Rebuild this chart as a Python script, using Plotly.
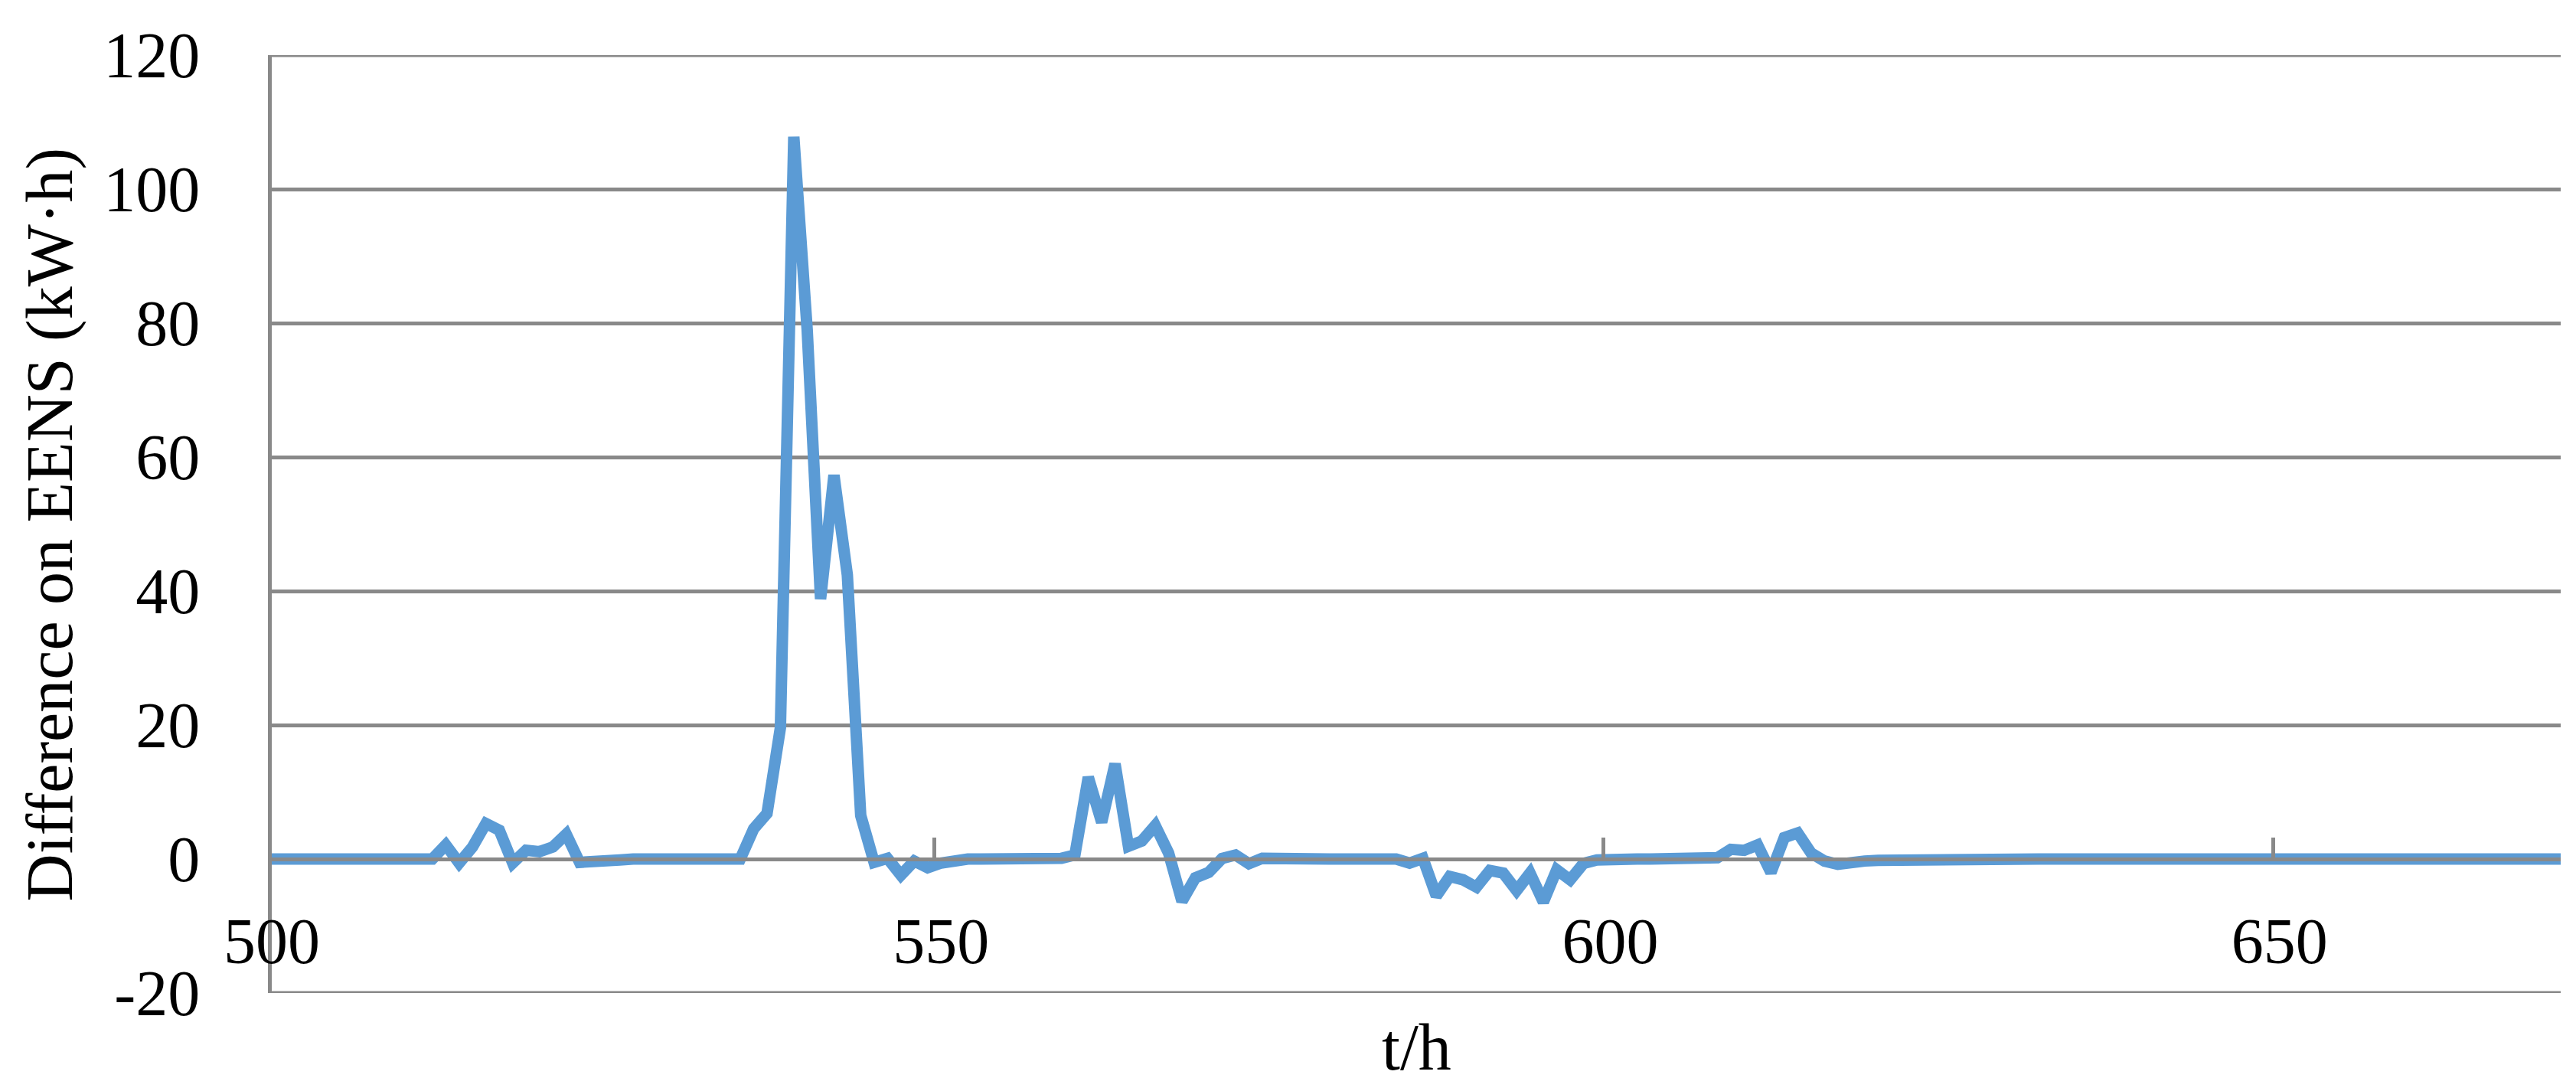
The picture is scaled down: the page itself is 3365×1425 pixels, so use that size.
import plotly.graph_objects as go

hours = list(range(500, 672))

eens_diff = [
    0, 0, 0, 0, 0, 0, 0, 0, 0, 0,             # 500-509
    0, 0, 0, 2.1, -0.6, 1.8, 5.3, 4.3, -0.6, 1.3,   # 510-519
    1.1, 1.8, 3.7, -0.5, -0.5, -0.3, -0.15, 0, 0, 0,  # 520-529
    0, 0, 0, 0, 0, 0, 4.5, 6.8, 19.6, 107.8,   # 530-539
    79, 38.8, 57.3, 42.4, 6.5, -0.5, 0.1, -2.4, -0.3, -1.3,  # 540-549
    -0.6, -0.1, 0, 0, 0, 0, 0, 0, 0, 0.1,      # 550-559
    0.6, 12.2, 5.5, 14.2, 1.9, 2.7, 5.0, 0.9, -6.3, -2.8,  # 560-569
    -2.0, 0.1, 0.6, -0.7, 0.1, 0, 0, 0, 0, 0,  # 570-579
    0, 0, 0, 0, 0, -0.6, 0.1, -5.5, -2.6, -3.1,  # 580-589
    -4.2, -1.7, -2.1, -4.7, -2.1, -6.4, -1.6, -3.1, -0.65, -0.15,  # 590-599
    0, 0, 0, 0, 0, 0, 0, 0, 0.2, 1.45,         # 600-609
    1.3, 2.1, -2.0, 3.2, 3.9, 0.9, -0.3, -0.8, -0.45, -0.3,  # 610-619
    -0.2, -0.15, -0.15, -0.15, 0, 0, 0, 0, 0.1, 0.1,  # 620-629
    0.1, 0.1, 0, 0, 0, 0, 0, 0, 0, 0,          # 630-639
    0, 0, 0, 0, 0, 0, 0, 0, 0, 0,              # 640-649
    0, 0, 0, 0, 0, 0, 0, 0, 0, 0,              # 650-659
    0, 0, 0, 0, 0, 0, 0, 0, 0, 0,              # 660-669
    0, 0,                                      # 670-671
]

y_ticks = [-20, 0, 20, 40, 60, 80, 100, 120]
y_tick_text = ['-20', '0', '20', '40', '60', '80', '100', '120']

grey = '#898989'
font_name = 'Liberation Serif'

fig = go.Figure()
fig.add_trace(go.Scatter(x=hours, y=eens_diff, mode='lines',
                         line=dict(color='#5B9BD5', width=15),
                         showlegend=False))

# plotly drops the grid lines at the range ends, so draw the top and bottom edges
for yv in (y_ticks[0], y_ticks[-1]):
    fig.add_shape(type='line', xref='paper', yref='y', x0=0, x1=1, y0=yv, y1=yv,
                  line=dict(color=grey, width=5), layer='below')

fig.update_layout(
    width=3365, height=1425,
    margin=dict(l=347, r=28, t=64, b=136),
    paper_bgcolor='white', plot_bgcolor='white',
    font=dict(family=font_name, size=84, color='black'),
    xaxis=dict(type='category', tickson='boundaries', dtick=50, tick0=0,
               tickangle=0, showgrid=False, zeroline=False,
               showline=True, linecolor=grey, linewidth=5,
               ticks='inside', ticklen=26, tickwidth=5, tickcolor=grey,
               anchor='free', position=20 / 140, ticklabelstandoff=32),
    yaxis=dict(range=[-20, 120], tickvals=y_ticks, ticktext=y_tick_text,
               showgrid=True, gridcolor=grey, gridwidth=5, zeroline=False,
               showline=True, linecolor=grey, linewidth=5, ticks='',
               ticklabelstandoff=72),
    annotations=[
        dict(text='Difference on EENS (kW·h)', textangle=-90,
             xref='paper', yref='paper', x=-0.097, y=0.5,
             xanchor='center', yanchor='middle', showarrow=False,
             font=dict(size=86)),
        dict(text='t/h', xref='paper', yref='paper', x=0.5, y=-0.058,
             xanchor='center', yanchor='middle', showarrow=False,
             font=dict(size=86)),
    ],
)

fig.write_html('out.html')
